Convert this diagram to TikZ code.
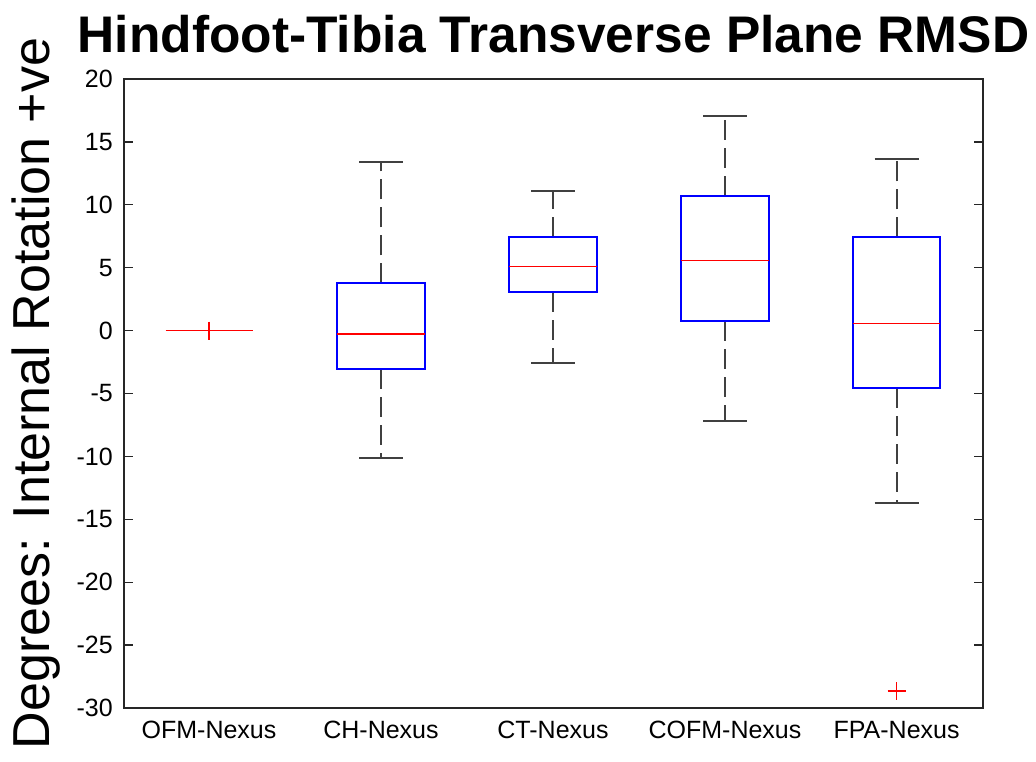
\documentclass[tikz,border=0pt]{standalone}
\usepackage{fontspec}
\setmainfont{Liberation Sans}
\tikzset{
  iqrbox/.style={draw={rgb,255:red,0;green,0;blue,255}, line width=1.5pt},
  medline/.style={draw={rgb,255:red,255;green,0;blue,0}, line width=1.1pt},
  whisk/.style={draw=black!75, line width=1.5pt, dash pattern=on 15pt off 6pt},
  wcap/.style={draw=black!75, line width=1.5pt},
  outl/.style={draw={rgb,255:red,255;green,0;blue,0}, line width=1.1pt},
  ticklbl/.style={inner sep=0.75pt, font=\fontsize{18.75}{22}\selectfont},
}
\begin{document}
\begin{tikzpicture}[x=0.75pt,y=0.75pt,yscale=-1,xscale=1]
\useasboundingbox (0,0) rectangle (1036,761);

%Shape: Axes frame
\draw [line width=1.1pt, color=black!85] (124,79) rectangle (983,708);
% y ticks, left and right, with labels
\foreach \v in {-30,-25,...,20}{
  \pgfmathsetmacro{\ty}{330.6-12.58*\v}
  \draw [line width=1pt, color=black!85] (124,\ty) -- (133,\ty);
  \draw [line width=1pt, color=black!85] (983,\ty) -- (974,\ty);
  \node [ticklbl, anchor=east] (ytick\v) at (114,\ty) {\v};
}

%Group: OFM-Nexus (all values at zero)
\draw [medline] (165.5,330.6) -- (253.3,330.6);
\draw [outl] (200,330.6) -- (218,330.6) (209,321.6) -- (209,339.6);

%Group: CH-Nexus
\draw [whisk] (381,283.3) -- (381,162.3);
\draw [whisk] (381,369.3) -- (381,458.3);
\draw [wcap] (359,162.3) -- (403,162.3);
\draw [wcap] (359,458.3) -- (403,458.3);
\draw [iqrbox] (337.3,283.3) rectangle (424.7,369.3);
\draw [medline] (337.3,334) -- (424.7,334);

%Group: CT-Nexus
\draw [whisk] (553,236.7) -- (553,191.3);
\draw [whisk] (553,292.3) -- (553,363.3);
\draw [wcap] (531,191.3) -- (575,191.3);
\draw [wcap] (531,363.3) -- (575,363.3);
\draw [iqrbox] (509.3,236.7) rectangle (596.7,292.3);
\draw [medline] (509.3,266.7) -- (596.7,266.7);

%Group: COFM-Nexus
\draw [whisk] (725,195.7) -- (725,116);
\draw [whisk] (725,321) -- (725,420.7);
\draw [wcap] (703,116) -- (747,116);
\draw [wcap] (703,420.7) -- (747,420.7);
\draw [iqrbox] (681.3,195.7) rectangle (768.7,321);
\draw [medline] (681.3,260.7) -- (768.7,260.7);

%Group: FPA-Nexus
\draw [whisk] (896.6,237.3) -- (896.6,159.3);
\draw [whisk] (896.6,388.3) -- (896.6,503.3);
\draw [wcap] (874.6,159.3) -- (918.6,159.3);
\draw [wcap] (874.6,503.3) -- (918.6,503.3);
\draw [iqrbox] (852.9,237.3) rectangle (940.3,388.3);
\draw [medline] (852.9,323.7) -- (940.3,323.7);
\draw [outl] (887.6,691) -- (905.6,691) (896.6,682) -- (896.6,700);

% Text Node
\node [ticklbl, anchor=base] (lblofm) at (209,738) {OFM-Nexus};
% Text Node
\node [ticklbl, anchor=base] (lblch) at (381,738) {CH-Nexus};
% Text Node
\node [ticklbl, anchor=base] (lblct) at (553,738) {CT-Nexus};
% Text Node
\node [ticklbl, anchor=base] (lblcofm) at (725,738) {COFM-Nexus};
% Text Node
\node [ticklbl, anchor=base] (lblfpa) at (896.6,738) {FPA-Nexus};

% Text Node
\node [inner sep=0pt, anchor=base, font=\bfseries\fontsize{38.6}{44}\selectfont] (title) at (553.5,52) {Hindfoot-Tibia Transverse Plane RMSD};
% Text Node
\node [inner sep=0pt, anchor=base, rotate=90, font=\fontsize{39}{44}\selectfont] (ylabel) at (50,393.5) {Degrees: Internal Rotation +ve};

\end{tikzpicture}
\end{document}
